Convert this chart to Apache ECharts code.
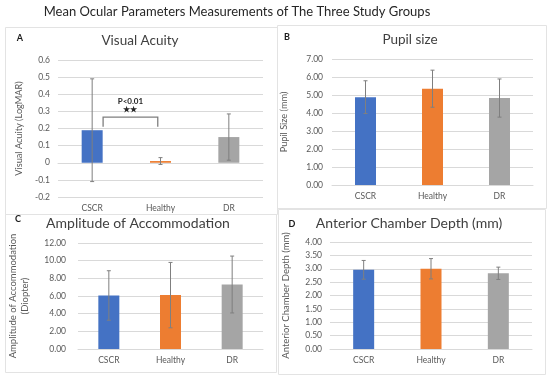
<!DOCTYPE html>
<html><head><meta charset="utf-8">
<script src="https://cdn.jsdelivr.net/npm/echarts@6/dist/echarts.min.js"></script>
<style>html,body{margin:0;padding:0;background:#fff}#c{width:550px;height:378px}</style>
</head><body><div id="c"></div>
<script>
const categories = ['CSCR', 'Healthy', 'DR'];
const vaMean = [0.19, 0.01, 0.15];
const vaSD = [0.30, 0.02, 0.135];
const pupilMean = [4.88, 5.35, 4.83];
const pupilSD = [0.91, 1.03, 1.06];
const accMean = [6.06, 6.10, 7.30];
const accSD = [2.80, 3.70, 3.22];
const acdMean = [2.96, 3.00, 2.83];
const acdSD = [0.35, 0.38, 0.23];
const colors = ['#4472C4', '#ED7D31', '#A5A5A5'];
const vaTicks = { min: -0.2, max: 0.6, interval: 0.1 };
const pupilTicks = { min: 0, max: 7, interval: 1 };
const accTicks = { min: 0, max: 12, interval: 2 };
const acdTicks = { min: 0, max: 4, interval: 0.5 };
const sigBracket = { from: 0, to: 1, top: 0.267, leg: 0.21, p: 'P<0.01', stars: '★★' };

const FONT = 'Lato';
const chart = echarts.init(document.getElementById('c'), null, { renderer: 'canvas' });

const grids = [
  { left: 58, top: 60, width: 205, height: 137 },
  { left: 332, top: 59, width: 201, height: 126 },
  { left: 78, top: 243, width: 185, height: 106 },
  { left: 330, top: 242, width: 202, height: 107 }
];
const ticks = [vaTicks, pupilTicks, accTicks, acdTicks];
const means = [vaMean, pupilMean, accMean, acdMean];
const sds = [vaSD, pupilSD, accSD, acdSD];
const yNames = ['Visual Acuity (LogMAR)', 'Pupil Size (mm)', 'Amplitude of Accommodation\n(Diopter)', 'Anterior Chamber Depth (mm)'];
const yGaps = [33, 42, 47, 38];
const yMargins = [8, 9, 12, 8];
const fmts = [
  v => (Math.abs(v) < 1e-9 ? '0' : String(Math.round(v * 10) / 10)),
  v => v.toFixed(2), v => v.toFixed(2), v => v.toFixed(2)
];

const xAxis = grids.map((g, i) => ({
  type: 'category', gridIndex: i, data: categories,
  axisLine: { onZero: true, lineStyle: { color: '#d9d9d9' } },
  axisTick: { show: false },
  axisLabel: { color: '#595959', fontSize: 8.5, fontFamily: FONT, margin: 7 }
}));
const yAxis = grids.map((g, i) => ({
  type: 'value', gridIndex: i, min: ticks[i].min, max: ticks[i].max, interval: ticks[i].interval,
  name: yNames[i], nameLocation: 'middle', nameRotate: 90, nameGap: yGaps[i],
  nameTextStyle: { color: '#595959', fontSize: i >= 2 ? 9.5 : 9.2, fontFamily: FONT, lineHeight: 12 },
  axisLine: { show: false }, axisTick: { show: false },
  splitLine: { lineStyle: { color: '#d9d9d9', width: 1 } },
  axisLabel: { color: '#595959', fontSize: 8.5, fontFamily: FONT, margin: yMargins[i], formatter: fmts[i] }
}));

const series = [];
grids.forEach((g, i) => {
  series.push({
    type: 'bar', xAxisIndex: i, yAxisIndex: i, barWidth: 21,
    data: means[i].map((v, k) => ({ value: v, itemStyle: { color: colors[k] } })),
    silent: true, animation: false
  });
  series.push({
    type: 'custom', xAxisIndex: i, yAxisIndex: i, silent: true, animation: false, z: 5,
    data: means[i].map((v, k) => [k, v - sds[i][k], v + sds[i][k]]),
    renderItem: (params, api) => {
      const lo = api.coord([api.value(0), api.value(1)]);
      const hi = api.coord([api.value(0), api.value(2)]);
      const cw = 2;
      const st = { stroke: '#7f7f7f', lineWidth: 1 };
      return { type: 'group', children: [
        { type: 'line', shape: { x1: hi[0], y1: hi[1], x2: lo[0], y2: lo[1] }, style: st },
        { type: 'line', shape: { x1: hi[0] - cw, y1: hi[1], x2: hi[0] + cw, y2: hi[1] }, style: st },
        { type: 'line', shape: { x1: lo[0] - cw, y1: lo[1], x2: lo[0] + cw, y2: lo[1] }, style: st }
      ]};
    }
  });
});
// significance bracket in panel A
series.push({
  type: 'custom', xAxisIndex: 0, yAxisIndex: 0, silent: true, animation: false, z: 6,
  data: [[sigBracket.from, sigBracket.to, sigBracket.top, sigBracket.leg]],
  renderItem: (params, api) => {
    const band = api.size([1, 0])[0];
    const a = api.coord([api.value(0), api.value(2)]);
    const b = api.coord([api.value(1), api.value(2)]);
    const aL = api.coord([api.value(0), api.value(3)]);
    const x1 = a[0] + band * 0.16, x2 = b[0] - band * 0.04;
    const yT = a[1], yL = aL[1];
    const st = { stroke: '#7f7f7f', lineWidth: 1.3, fill: null };
    const mx = (x1 + x2) / 2;
    return { type: 'group', children: [
      { type: 'polyline', shape: { points: [[x1, yL], [x1, yT], [x2, yT], [x2, yL]] }, style: st },
      { type: 'text', style: { text: sigBracket.p, x: mx, y: yT - 16, textAlign: 'center', textVerticalAlign: 'middle', fill: '#262626', font: 'bold 8px ' + FONT } },
      { type: 'text', style: { text: sigBracket.stars, x: mx, y: yT - 7, textAlign: 'center', textVerticalAlign: 'middle', fill: '#262626', font: 'bold 7.5px ' + FONT } }
    ]};
  }
});

const panelTitles = [
  { text: 'Visual Acuity', x: 140, y: 41, size: 13.5 },
  { text: 'Pupil size', x: 410, y: 40, size: 13.5 },
  { text: 'Amplitude of Accommodation', x: 138, y: 223, size: 14 },
  { text: 'Anterior Chamber Depth (mm)', x: 409, y: 223, size: 14 }
];
const letters = [
  { text: 'A', x: 20, y: 38 }, { text: 'B', x: 287, y: 37 },
  { text: 'C', x: 18, y: 219 }, { text: 'D', x: 292, y: 224 }
];
const panels = [
  { x: 3, y: 25, w: 272, h: 187 },
  { x: 275, y: 23, w: 269, h: 183 },
  { x: 3, y: 212, w: 271, h: 158 },
  { x: 276, y: 207, w: 267, h: 165 }
];
const graphic = [];
panels.forEach(p => graphic.push({ type: 'rect', left: p.x, top: p.y, z: -10, silent: true,
  shape: { width: p.w, height: p.h }, style: { fill: 'none', stroke: '#e3e3e3', lineWidth: 1 } }));
panelTitles.forEach(t => graphic.push({ type: 'text', x: t.x, y: t.y, silent: true,
  style: { text: t.text, textAlign: 'center', textVerticalAlign: 'middle', fill: '#404040', font: t.size + 'px ' + FONT } }));
letters.forEach(t => graphic.push({ type: 'text', x: t.x, y: t.y, silent: true,
  style: { text: t.text, textAlign: 'center', textVerticalAlign: 'middle', fill: '#1a1a1a', font: 'bold 9px ' + FONT } }));
graphic.push({ type: 'text', x: 237, y: 12, silent: true,
  style: { text: 'Mean Ocular Parameters Measurements of The Three Study Groups', textAlign: 'center', textVerticalAlign: 'middle', fill: '#262626', font: '13px ' + FONT } });

chart.setOption({ animation: false, backgroundColor: '#fff', grid: grids, xAxis, yAxis, series, graphic });
</script></body></html>
